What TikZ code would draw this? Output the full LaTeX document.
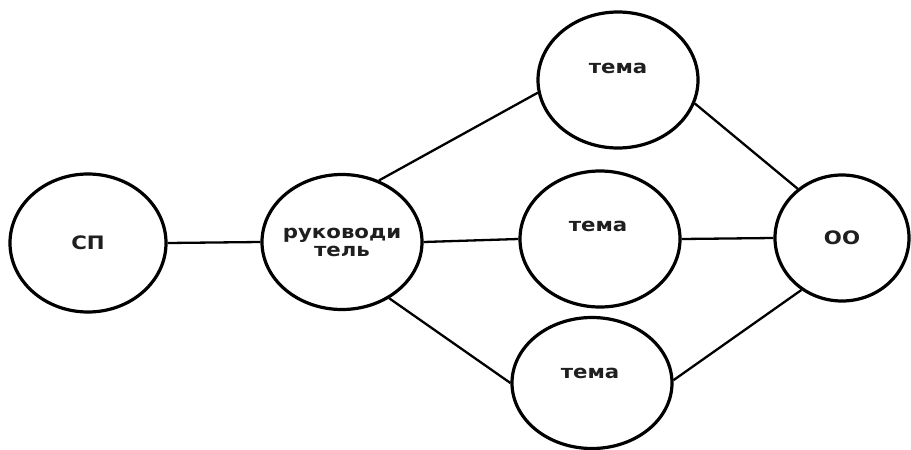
\documentclass[tikz,border=0pt]{standalone}
\usepackage{fontspec}
\newfontfamily\lblfont[FakeStretch=1.15]{DejaVu Sans}
\usetikzlibrary{shapes.geometric}
\tikzset{
  ell/.style={ellipse, draw=black, line width=3.2pt, fill=white, inner sep=0pt},
  lbl/.style={font=\lblfont\bfseries\fontsize{18.5}{18}\selectfont, text=black!88, align=center},
  conn/.style={draw=black, line width=2.3pt}
}
\begin{document}
\begin{tikzpicture}[x=1pt,y=-1pt]
\useasboundingbox[fill=white] (0,0) rectangle (911,450);
\node[ell, minimum width=156pt, minimum height=138pt] (sp) at (88,243) {};
\node[lbl] (sptxt) at (sp.center) {СП};
\node[ell, minimum width=160pt, minimum height=135pt] (ruk) at (342,242) {};
\node[lbl] (ruktxt) at (ruk.center) {руководи\\тель};
\node[ell, minimum width=160pt, minimum height=136pt] (t1) at (618,80) {};
\node[lbl] (t1txt) at (618,68) {тема};
\node[ell, minimum width=160pt, minimum height=136pt] (t2) at (600,239) {};
\node[lbl] (t2txt) at (598,226) {тема};
\node[ell, minimum width=160pt, minimum height=131pt] (t3) at (592,383) {};
\node[lbl] (t3txt) at (590,373) {тема};
\node[ell, minimum width=134pt, minimum height=126pt] (oo) at (842,238) {};
\node[lbl] (ootxt) at (oo.center) {ОО};
\draw[conn] (sp.east) -- (ruk.west);
\draw[conn] (ruk.59) -- (t1.-171);
\draw[conn] (ruk.east) -- (t2.west);
\draw[conn] (ruk.-50) -- (t3.180);
\draw[conn] (t1.-17) -- (oo.132);
\draw[conn] (t2.east) -- (oo.west);
\draw[conn] (t3.2) -- (oo.-128);
\end{tikzpicture}
\end{document}
